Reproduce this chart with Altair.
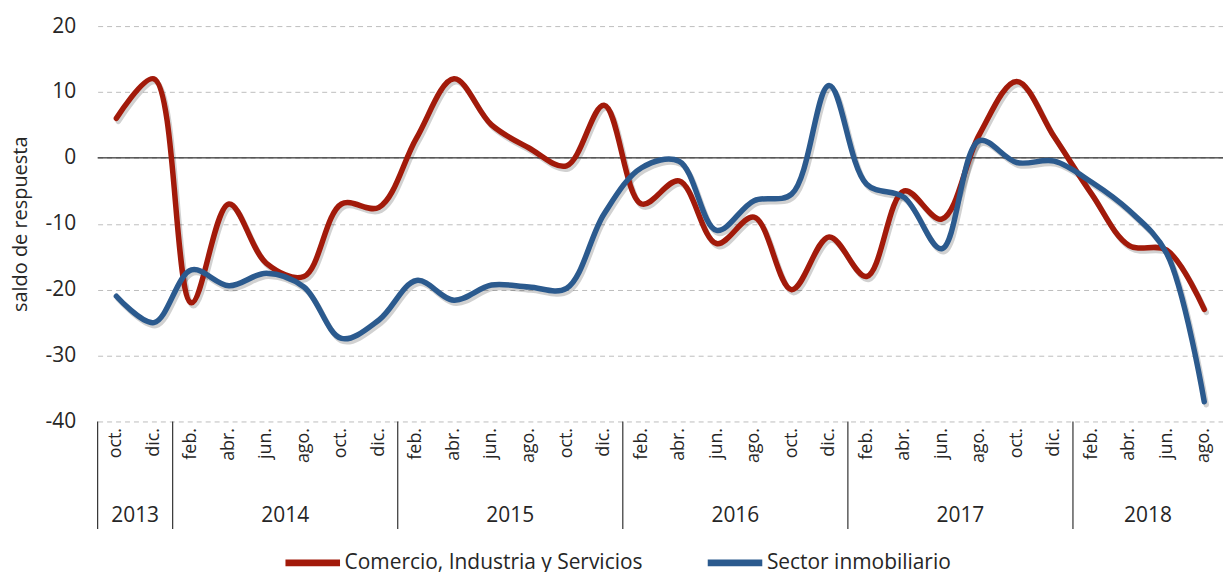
import altair as alt
import pandas as pd

months = ["oct.", "dic.",
          "feb.", "abr.", "jun.", "ago.", "oct.", "dic.",
          "feb.", "abr.", "jun.", "ago.", "oct.", "dic.",
          "feb.", "abr.", "jun.", "ago.", "oct.", "dic.",
          "feb.", "abr.", "jun.", "ago.", "oct.", "dic.",
          "feb.", "abr.", "jun.", "ago."]
years = ["2013"] * 2 + ["2014"] * 6 + ["2015"] * 6 + ["2016"] * 6 + ["2017"] * 6 + ["2018"] * 4

comercio = [6, 12, -22, -7, -16, -18, -7, -7.5, 3, 12, 5, 1.5, -1.2, 8,
            -7, -3.5, -13, -9, -20, -12, -18, -5, -9.3, 3.5, 11.6, 3.2,
            -5.5, -13.3, -14, -23]
inmobiliario = [-21, -25, -17, -19.4, -17.5, -19.6, -27.4, -24.6, -18.6, -21.6,
                -19.3, -19.6, -19.8, -8.5, -1.5, -0.5, -11, -6.5, -5.5, 11,
                -4, -6, -13.8, 2.6, -0.7, -0.5, -3.7, -8, -14.5, -37]

series_names = ["Comercio, Industria y Servicios", "Sector inmobiliario"]
series_colors = ["#A21A0A", "#2B5A8E"]

keys = [f"{m}|{y}|{i}" for i, (m, y) in enumerate(zip(months, years))]

rows = []
for name, vals in zip(series_names, [comercio, inmobiliario]):
    for k, v in zip(keys, vals):
        rows.append({"key": k, "serie": name, "valor": v})
df = pd.DataFrame(rows)

# year groups
year_list = []
for y in years:
    if y not in year_list:
        year_list.append(y)
sep_rows, lab_rows = [], []
for y in year_list:
    idx = [i for i, yy in enumerate(years) if yy == y]
    sep_rows.append({"key": keys[idx[0]]})
    mid = (idx[0] + idx[-1]) // 2
    lab_rows.append({"key": keys[mid], "year": y})
sep_df = pd.DataFrame(sep_rows)
lab_df = pd.DataFrame(lab_rows)

W, H = 1130, 397
FONT = "Open Sans"
TXT = "#262626"

xscale = alt.Scale(type="band", domain=keys, paddingInner=0, paddingOuter=0)
yscale = alt.Scale(domain=[-40, 20], nice=False)

xaxis = alt.Axis(title=None, labelAngle=-90, labelFontSize=18, labelFont=FONT,
                 labelColor=TXT, labelPadding=6, ticks=False, domain=False,
                 labelExpr="split(datum.label, '|')[0]", grid=False)
yaxis = alt.Axis(title="saldo de respuesta", titleFont=FONT, titleFontSize=20,
                 titleFontWeight="normal", titleColor=TXT, titlePadding=15,
                 values=[-40, -30, -20, -10, 0, 10, 20], labelFontSize=21,
                 labelExpr="replace(datum.label, '\u2212', '-')",
                 labelFont=FONT, labelColor=TXT, labelPadding=22,
                 ticks=False, domain=False, grid=True, gridDash=[5, 4],
                 gridColor="#BDBDBD", gridWidth=1)

X = lambda bp: alt.X("key:N", scale=xscale, bandPosition=bp, axis=xaxis)
Y = alt.Y("valor:Q", scale=yscale, axis=yaxis)

base = alt.Chart(df)

shadow = base.mark_line(strokeWidth=5.5, color="#000000", opacity=0.18,
                        interpolate="catmull-rom", xOffset=2, yOffset=3,
                        strokeCap="round").encode(
    x=X(0.5), y=Y, detail="serie:N",
)

lines = base.mark_line(strokeWidth=5.5, interpolate="catmull-rom", strokeCap="round").encode(
    x=X(0.5),
    y=Y,
    color=alt.Color("serie:N", scale=alt.Scale(domain=series_names, range=series_colors),
                    legend=alt.Legend(title=None, orient="none", legendX=185, legendY=H + 111,
                                      direction="horizontal", symbolType="stroke",
                                      symbolStrokeWidth=7, symbolSize=3000,
                                      labelFont=FONT, labelFontSize=21, labelColor=TXT,
                                      labelOffset=1, columnPadding=50, labelLimit=400)),
    order=alt.Order("serie:N", sort="ascending"),
)

zero = alt.Chart(pd.DataFrame({"valor": [0]})).mark_rule(color="#000000", strokeWidth=1).encode(
    y=Y)

seps = alt.Chart(sep_df).mark_rule(color="#333333", strokeWidth=1.2).encode(
    x=X(0),
    y=alt.value(H),
    y2=alt.value(H + 108),
)

ylabels = alt.Chart(lab_df).mark_text(font=FONT, fontSize=21, color=TXT,
                                      baseline="middle").encode(
    x=X(1),
    y=alt.value(H + 95),
    text="year:N",
)

chart = alt.layer(zero, shadow, lines, seps, ylabels).properties(
    width=W, height=H,
    autosize=alt.AutoSizeParams(type="none"),
    padding={"left": 90, "top": 17, "right": 0, "bottom": 150},
).configure_view(stroke=None)

chart.save("out.html", embed_options={"renderer": "svg", "actions": False})
